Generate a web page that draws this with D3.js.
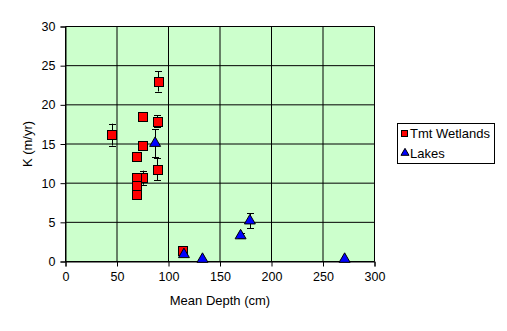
<!DOCTYPE html>
<html><head><meta charset="utf-8">
<script src="https://cdn.jsdelivr.net/npm/d3@7"></script>
<style>body{margin:0;background:#fff}svg text{font-family:"Liberation Sans",Arial,sans-serif}</style>
</head><body><svg id="c" width="507" height="331"></svg>
<script>
const xTicks=[0,50,100,150,200,250,300];
const yTicks=[0,5,10,15,20,25,30];
const wetX=[90,75,89,45,75,69,89,75,69,69,69,114];
const wetY=[23,18.5,17.9,16.2,14.8,13.4,11.8,10.7,10.7,9.7,8.5,1.4];
const wetErr=[1.3,0,0.75,1.4,0,0,1.4,0.9,0,0,0,0];
const lakeX=[87,115,133,170,179,271];
const lakeY=[15.1,0.9,0.3,3.3,5.2,0.3];
const lakeErr=[1.8,0,0,0.3,0.95,0];
const seriesNames=["Tmt Wetlands","Lakes"];

const svg=d3.select("#c");
const L=65.5,R=374.5,T=26.5,B=261.5;
const x=d3.scaleLinear().domain([0,300]).range([L,R]);
const y=d3.scaleLinear().domain([0,30]).range([B,T]);
svg.append("rect").attr("x",L).attr("y",T).attr("width",R-L).attr("height",B-T).attr("fill","#ccffcc");
const g=svg.append("g");
g.selectAll(".hg").data(yTicks).join("line").attr("x1",L).attr("x2",R).attr("y1",d=>y(d)).attr("y2",d=>y(d)).attr("stroke","#000");
g.selectAll(".vg").data(xTicks).join("line").attr("y1",T).attr("y2",B).attr("x1",d=>x(d)).attr("x2",d=>x(d)).attr("stroke","#000");
const xa=svg.append("g").attr("transform",`translate(0,${B})`).call(d3.axisBottom(x).tickValues(xTicks).tickSize(5).tickPadding(6));
const ya=svg.append("g").attr("transform",`translate(${L},0)`).call(d3.axisLeft(y).tickValues(yTicks).tickSize(5).tickPadding(5));
[xa,ya].forEach(a=>{a.select(".domain").attr("stroke","#000");a.selectAll("line").attr("stroke","#000");a.selectAll("text").attr("font-size",12.5).attr("fill","#000").attr("font-family","Liberation Sans, Arial, sans-serif");});
svg.append("text").attr("x",(L+R)/2).attr("y",305).attr("text-anchor","middle").attr("font-size",13).text("Mean Depth (cm)");
svg.append("text").attr("transform",`translate(32,${(T+B)/2}) rotate(-90)`).attr("text-anchor","middle").attr("font-size",13).text("K (m/yr)");

function errs(xs,ys,es){
  const d=xs.map((v,i)=>({x:v,y:ys[i],e:es[i]})).filter(o=>o.e>0);
  const eg=svg.append("g").attr("stroke","#000").attr("stroke-width",1);
  d.forEach(o=>{
    const cx=Math.round(x(o.x))+0.5;
    eg.append("line").attr("x1",cx).attr("x2",cx).attr("y1",y(o.y+o.e)).attr("y2",y(o.y-o.e));
    [o.y+o.e,o.y-o.e].forEach(v=>eg.append("line").attr("x1",cx-3.5).attr("x2",cx+3.5).attr("y1",Math.round(y(v))+0.5).attr("y2",Math.round(y(v))+0.5));
  });
}
errs(wetX,wetY,wetErr);
errs(lakeX,lakeY,lakeErr);
const sq=9;
svg.append("g").selectAll("rect").data(wetX.map((v,i)=>[v,wetY[i]])).join("rect")
 .attr("x",d=>Math.round(x(d[0])-sq/2)+0.5).attr("y",d=>Math.round(y(d[1])-sq/2)+0.5).attr("width",sq).attr("height",sq)
 .attr("fill","#ff0000").attr("stroke","#000");
const tri=d3.symbol().type(d3.symbolTriangle).size(52);
svg.append("g").selectAll("path").data(lakeX.map((v,i)=>[v,lakeY[i]])).join("path")
 .attr("transform",d=>`translate(${x(d[0])},${y(d[1])})`).attr("d",tri).attr("fill","#0000ff").attr("stroke","#000");

// legend
const lg=svg.append("g");
lg.append("rect").attr("x",397.5).attr("y",123.5).attr("width",97).attr("height",40).attr("fill","#fff").attr("stroke","#000");
lg.append("rect").attr("x",401.5).attr("y",130.5).attr("width",6).attr("height",6).attr("fill","#ff0000").attr("stroke","#000");
lg.append("path").attr("transform","translate(405,153)").attr("d",d3.symbol().type(d3.symbolTriangle).size(28)).attr("fill","#0000ff").attr("stroke","#000");
lg.selectAll("text").data(seriesNames).join("text").attr("x",410).attr("y",(d,i)=>138+i*20).attr("font-size",13).text(d=>d);
</script></body></html>
